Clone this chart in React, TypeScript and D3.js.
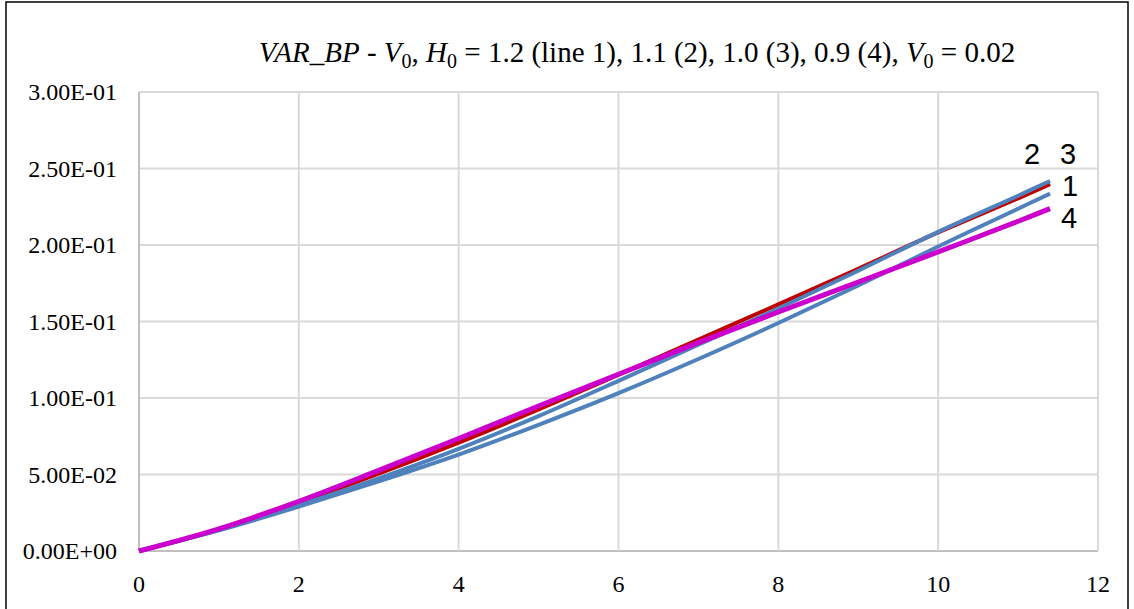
import { useEffect, useRef } from "react"
import * as d3 from "d3"

const xs = [0, 1, 2, 3, 4, 5, 6, 7, 8, 9, 10, 11, 11.4]
const line1 = [0, 0.0135, 0.029, 0.0455, 0.063, 0.0825, 0.1032, 0.1255, 0.149, 0.1735, 0.199, 0.2237, 0.2336]
const line2 = [0, 0.0142, 0.0315, 0.0505, 0.0708, 0.0925, 0.1152, 0.1382, 0.1612, 0.1845, 0.2082, 0.2305, 0.2398]
const line3 = [0, 0.0138, 0.03, 0.0475, 0.0668, 0.0882, 0.1112, 0.1348, 0.1585, 0.1832, 0.2086, 0.2322, 0.2418]
const line4 = [0, 0.0145, 0.0325, 0.0527, 0.0735, 0.0948, 0.1155, 0.1362, 0.1562, 0.1758, 0.1955, 0.2155, 0.2238]
const xTicks = [0, 2, 4, 6, 8, 10, 12]
const yTicks = [0, 0.05, 0.1, 0.15, 0.2, 0.25, 0.3]

const series = [
  { name: "1", values: line1, color: "#4f81bd", width: 4 },
  { name: "2", values: line2, color: "#c00000", width: 4 },
  { name: "3", values: line3, color: "#4f81bd", width: 4 },
  { name: "4", values: line4, color: "#cc00cc", width: 5 },
]

export default function App() {
  const svgRef = useRef<SVGSVGElement>(null)

  useEffect(() => {
    if (!svgRef.current) return
    const svg = d3.select(svgRef.current)
    svg.selectAll("*").remove()
    const width = 1134
    const height = 609
    const margin = { top: 92, right: 36, bottom: 58, left: 139 }

    svg.append("rect")
      .attr("x", 6).attr("y", 2)
      .attr("width", 1122).attr("height", 620)
      .attr("fill", "#fff").attr("stroke", "#000").attr("stroke-width", 1.5)

    const x = d3.scaleLinear().domain([0, 12]).range([margin.left, width - margin.right])
    const y = d3.scaleLinear().domain([0, 0.3]).range([height - margin.bottom, margin.top])

    // grid
    svg.append("g").selectAll("line").data(yTicks).join("line")
      .attr("x1", x(0)).attr("x2", x(12))
      .attr("y1", d => y(d)).attr("y2", d => y(d))
      .attr("stroke", d => d === 0 ? "#bfbfbf" : "#d9d9d9").attr("stroke-width", 2)
    svg.append("g").selectAll("line").data(xTicks).join("line")
      .attr("x1", d => x(d)).attr("x2", d => x(d))
      .attr("y1", y(0)).attr("y2", y(0.3))
      .attr("stroke", d => d === 0 ? "#bfbfbf" : "#d9d9d9").attr("stroke-width", 2)

    const font = "'Liberation Serif', 'Times New Roman', serif"
    svg.append("g").selectAll("text").data(yTicks).join("text")
      .attr("x", 117).attr("y", d => y(d)).attr("dy", "0.35em")
      .attr("text-anchor", "end")
      .attr("font-family", font).attr("font-size", 24).attr("fill", "#000")
      .text(d => d3.format(".2e")(d).replace("e", "E").replace(/E([+-])(\d)$/, "E$10$2"))
    svg.append("g").selectAll("text").data(xTicks).join("text")
      .attr("x", d => x(d)).attr("y", y(0) + 33).attr("dy", "0.35em")
      .attr("text-anchor", "middle")
      .attr("font-family", font).attr("font-size", 24).attr("fill", "#000")
      .text(d => d)

    const line = d3.line<number>()
      .x((d, i) => x(xs[i]))
      .y(d => y(d))
      .curve(d3.curveCatmullRom)

    svg.append("g").selectAll("path").data(series).join("path")
      .attr("d", d => line(d.values))
      .attr("fill", "none")
      .attr("stroke", d => d.color)
      .attr("stroke-width", d => d.width)

    // line labels
    const lab = svg.append("g")
      .attr("font-family", "'Liberation Sans', Arial, sans-serif")
      .attr("font-size", 29).attr("fill", "#000")
    lab.append("text").attr("x", x(11.4) - 26).attr("y", y(0.2595)).attr("dy", "0.35em").text("2")
    lab.append("text").attr("x", x(11.4) + 10).attr("y", y(0.2595)).attr("dy", "0.35em").text("3")
    lab.append("text").attr("x", x(11.4) + 12).attr("y", y(0.2385)).attr("dy", "0.35em").text("1")
    lab.append("text").attr("x", x(11.4) + 11).attr("y", y(0.2175)).attr("dy", "0.35em").text("4")

    // title
    const title = svg.append("text")
      .attr("x", 637).attr("y", 62)
      .attr("text-anchor", "middle")
      .attr("font-family", font).attr("font-size", 29).attr("fill", "#000")
    const parts: [string, string][] = [
      ["VAR_BP", "i"], [" - ", "n"], ["V", "i"], ["0", "s"], [", ", "n"],
      ["H", "i"], ["0", "s"], [" = 1.2 (line 1), 1.1 (2), 1.0 (3), 0.9 (4), ", "n"],
      ["V", "i"], ["0", "s"], [" = 0.02", "n"],
    ]
    let shifted = false
    parts.forEach(([t, k]) => {
      const ts = title.append("tspan").text(t)
      if (k === "i") ts.attr("font-style", "italic")
      if (k === "s") {
        ts.attr("font-size", 20).attr("dy", 6)
        shifted = true
      } else if (shifted) {
        ts.attr("dy", -6)
        shifted = false
      }
    })
  }, [])

  return (
    <div style={{ position: "fixed", left: 0, top: 0 }}>
      <svg ref={svgRef} width="1134" height="609" style={{ display: "block" }}></svg>
    </div>
  )
}
